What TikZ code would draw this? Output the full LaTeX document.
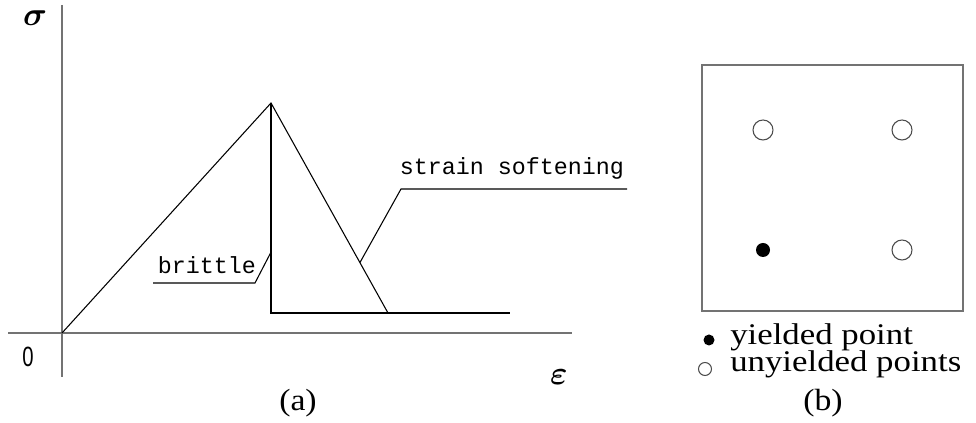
\documentclass[tikz,border=0pt]{standalone}
\usepackage{amsmath,amssymb}
\usepackage{fontspec}
\setmainfont{Liberation Serif}
\setsansfont{Liberation Sans}
\setmonofont{Liberation Mono}
\usetikzlibrary{positioning,calc}

\begin{document}
\begin{tikzpicture}[x=0.75pt,y=-0.75pt,
  axis/.style={draw=black!55,line width=1.5pt},
  curve/.style={draw=black,line width=0.8pt},
  frame/.style={draw=black!55,line width=1.4pt},
  lbl/.style={font=\ttfamily\fontsize{17.5}{20}\selectfont,inner sep=0pt},
  legend/.style={font=\fontsize{22.5}{25}\selectfont,inner sep=0pt},
  subcap/.style={font=\fontsize{23}{26}\selectfont,inner sep=0pt},
  openpt/.style={draw=black!70,line width=0.8pt,fill=white},
  fullpt/.style={fill=black}]
\useasboundingbox (0,0) rectangle (976,423);
% (a) stress-strain
\coordinate (O) at (62,333);
\coordinate (ytop) at (62,5);
\coordinate (ybot) at (62,377);
\coordinate (xleft) at (8,333);
\coordinate (xright) at (572,333);
\coordinate (peak) at (271,103);
\coordinate (drop) at (271,313);
\coordinate (foot) at (388,313);
\coordinate (tail) at (510,313);
\draw[axis] (ytop) -- (ybot);
\draw[axis] (xleft) -- (xright);
\draw[curve] (O) -- (peak) -- (foot);
\draw[curve] (peak) -- (drop) -- (tail);
\node (sigma) at (35,18) {\fontsize{27}{28}\selectfont$\boldsymbol{\sigma}$};
\node (eps) at (559,377) {\fontsize{30}{32}\selectfont$\boldsymbol{\varepsilon}$};
\node[font=\sffamily\fontsize{19}{22}\selectfont] (zero) at (28,357) {\scalebox{0.8}[1.1]{0}};
% leaders
\node[lbl,anchor=base] (brittle) at (207,274) {brittle};
\coordinate (b1) at ($(peak)!0.71!(drop)$);
\coordinate (b2) at (255,283);
\coordinate (b3) at (153,283);
\draw[curve] (b1) -- (b2) -- (b3);
\node[lbl,anchor=base] (soft) at (512,175) {strain softening};
\coordinate (s1) at ($(peak)!0.76!(foot)$);
\coordinate (s2) at (401,189);
\coordinate (s3) at (627,189);
\draw[curve] (s1) -- (s2) -- (s3);
\node[subcap] (capa) at (298,403) {\scalebox{1.1}[1]{(a)}};
% (b) element
\draw[frame] (702,65) rectangle (963,311);
\foreach \px/\py in {763/130,902/130,902/250}
  \draw[openpt] (\px,\py) circle[radius=10];
\fill[fullpt] (763,250) circle[radius=7];
\fill[fullpt] (709,340) circle[radius=5.5];
\node[legend,anchor=base west] (yld) at (730,345) {\scalebox{1.16}[1]{yielded point}};
\draw[openpt] (705,369) circle[radius=6.5];
\node[legend,anchor=base west] (unyld) at (730,372) {\scalebox{1.16}[1]{unyielded points}};
\node[subcap] (capb) at (823,403) {\scalebox{1.1}[1]{(b)}};
\end{tikzpicture}
\end{document}
